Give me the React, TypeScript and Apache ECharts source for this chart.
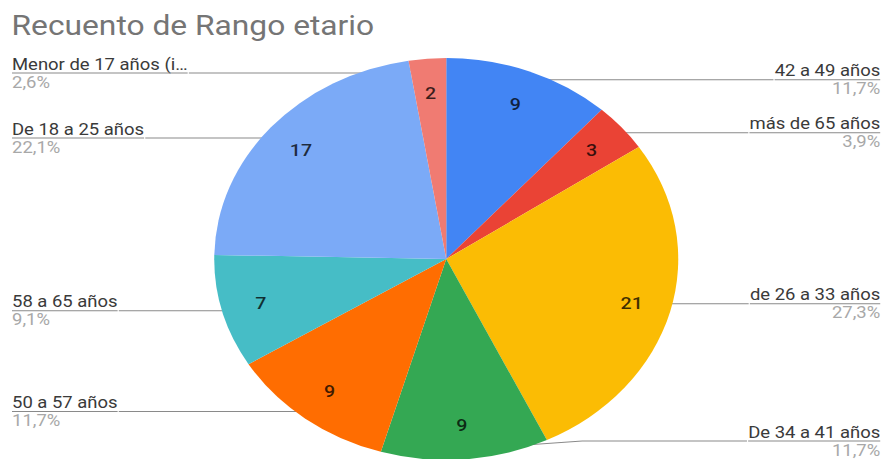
import React, { useEffect, useRef } from 'react';
import * as echarts from 'echarts';

const chartTitle = 'Recuento de Rango etario';
const categories = [
  '42 a 49 años',
  'más de 65 años',
  'de 26 a 33 años',
  'De 34 a 41 años',
  '50 a 57 años',
  '58 a 65 años',
  'De 18 a 25 años',
  'Menor de 17 años (i…',
];
const counts = [9, 3, 21, 9, 9, 7, 17, 2];
const sliceColors = ['#4285F4', '#EA4335', '#FBBC04', '#34A853', '#FF6D01', '#46BDC6', '#7BAAF7', '#F07B72'];

const BASE_W = 765;
const H = 459;
const SCALE_X = 883 / BASE_W;

export default function App() {
  const ref = useRef<HTMLDivElement>(null);

  useEffect(() => {
    if (!ref.current) return;
    const chart = echarts.init(ref.current, undefined, { renderer: 'svg' });
    const total = counts.reduce((a, b) => a + b, 0);
    const pct = (v: number) => ((v / total) * 100).toFixed(1).replace('.', ',');
    const data = categories.map((name, i) => ({ name, value: counts[i], itemStyle: { color: sliceColors[i] } }));
    const ghost = categories.map((name, i) => ({ name, value: counts[i] }));
    const box = { left: 0, top: 55, width: 773, height: 404 };
    const center = [386.6, 204];
    const font = 'Roboto, "Noto Sans", Arial, sans-serif';

    chart.setOption({
      animation: false,
      title: {
        text: chartTitle,
        left: 10,
        top: 11,
        padding: 0,
        textStyle: { fontSize: 27.5, fontWeight: 'normal', color: '#757575', fontFamily: font },
      },
      series: [
        {
          type: 'pie',
          ...box,
          center,
          radius: 201,
          startAngle: 90,
          clockwise: true,
          data,
          silent: true,
          label: { show: false },
          labelLine: { show: false },
          itemStyle: { borderWidth: 0 },
        },
        {
          type: 'pie',
          ...box,
          center,
          radius: [126, 201],
          startAngle: 90,
          clockwise: true,
          data: ghost,
          silent: true,
          itemStyle: { color: 'rgba(0,0,0,0)', borderWidth: 0 },
          label: {
            show: true,
            position: 'inside',
            formatter: '{c}',
            fontSize: 17,
            fontWeight: 500,
            fontFamily: font,
            color: 'rgba(0,0,0,0.75)',
          },
          labelLine: { show: false },
        },
        {
          type: 'pie',
          ...box,
          center,
          radius: 191,
          startAngle: 90,
          clockwise: true,
          data: ghost,
          silent: true,
          avoidLabelOverlap: true,
          itemStyle: { color: 'rgba(0,0,0,0)', borderWidth: 0 },
          label: {
            show: true,
            position: 'outer',
            alignTo: 'edge',
            edgeDistance: 10.4,
            distanceToLabelLine: 0,
            fontFamily: font,
            formatter: (p: any) => `{name|${p.name}}\n{hr|}\n{pct|${pct(p.value)}%}`,
            rich: {
              name: { fontSize: 16, lineHeight: 18, color: '#3a3a3a', fontFamily: font },
              hr: { width: '100%', height: 0, borderColor: '#8a8a8a', borderWidth: 1 },
              pct: { fontSize: 16, lineHeight: 18, color: '#a8a8a8', fontFamily: font },
            },
          },
          labelLine: {
            show: true,
            length: 1,
            length2: 1,
            smooth: false,
            lineStyle: { color: '#8a8a8a', width: 1 },
          },
        },
      ],
    });
    return () => chart.dispose();
  }, []);

  return (
    <div
      style={{
        position: 'fixed',
        left: 0,
        top: 0,
        width: 883,
        height: H,
        overflow: 'hidden',
        background: '#fff',
      }}
    >
      <div
        ref={ref}
        style={{
          width: BASE_W,
          height: H,
          transform: `scaleX(${SCALE_X})`,
          transformOrigin: '0 0',
        }}
      />
    </div>
  );
}
